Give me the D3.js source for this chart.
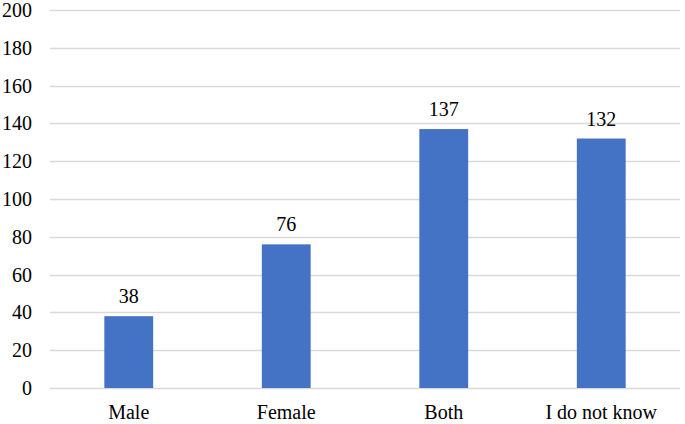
<!DOCTYPE html>
<html>
<head>
  <meta charset="UTF-8">
  <script src="https://d3js.org/d3.v7.min.js"></script>
</head>
<body style="margin:0">
  <div id="chart"></div>

  <script>
    const categories = ["Male", "Female", "Both", "I do not know"];
    const values = [38, 76, 137, 132];
    const yTicks = [0, 20, 40, 60, 80, 100, 120, 140, 160, 180, 200];

    const W = 685, H = 424;
    const margin = {top: 10, right: 5, bottom: 36, left: 50},
          width = W - margin.left - margin.right,
          height = H - margin.top - margin.bottom;
    const FONT = "Liberation Serif";

    const svg = d3.select("#chart")
                  .append("svg")
                  .attr("width", W)
                  .attr("height", H)
                  .append("g")
                  .attr("transform", `translate(${margin.left},${margin.top})`);

    const x = d3.scaleBand()
                .domain(categories)
                .range([0, width])
                .paddingInner(0.69)
                .paddingOuter(0.345);

    const y = d3.scaleLinear()
                .domain([0, 200])
                .range([height, 0]);

    // gridlines
    svg.append("g")
       .selectAll("line")
       .data(yTicks)
       .enter()
       .append("line")
       .attr("x1", 0)
       .attr("x2", width)
       .attr("y1", d => Math.round(y(d)) + 0.5)
       .attr("y2", d => Math.round(y(d)) + 0.5)
       .attr("stroke", "#d9d9d9")
       .attr("stroke-width", 1.3);

    // y labels
    svg.append("g")
       .selectAll("text")
       .data(yTicks)
       .enter()
       .append("text")
       .attr("x", -18)
       .attr("y", d => y(d) + 7)
       .attr("text-anchor", "end")
       .attr("font-family", FONT)
       .attr("font-size", 20)
       .text(d => d);

    svg.selectAll(".bar")
       .data(values)
       .enter()
       .append("rect")
       .attr("class", "bar")
       .attr("x", (d, i) => x(categories[i]))
       .attr("y", d => y(d))
       .attr("width", x.bandwidth())
       .attr("height", d => height - y(d))
       .attr("fill", "#4472c4");

    svg.selectAll(".label")
       .data(values)
       .enter()
       .append("text")
       .attr("class", "label")
       .attr("x", (d, i) => x(categories[i]) + x.bandwidth() / 2)
       .attr("y", d => y(d) - 13)
       .attr("text-anchor", "middle")
       .attr("font-family", FONT)
       .attr("font-size", 20)
       .text(d => d);

    // x labels
    svg.append("g")
       .selectAll("text")
       .data(categories)
       .enter()
       .append("text")
       .attr("x", d => x(d) + x.bandwidth() / 2)
       .attr("y", height + 31)
       .attr("text-anchor", "middle")
       .attr("font-family", FONT)
       .attr("font-size", 20)
       .text(d => d);
  </script>
</body>
</html>
